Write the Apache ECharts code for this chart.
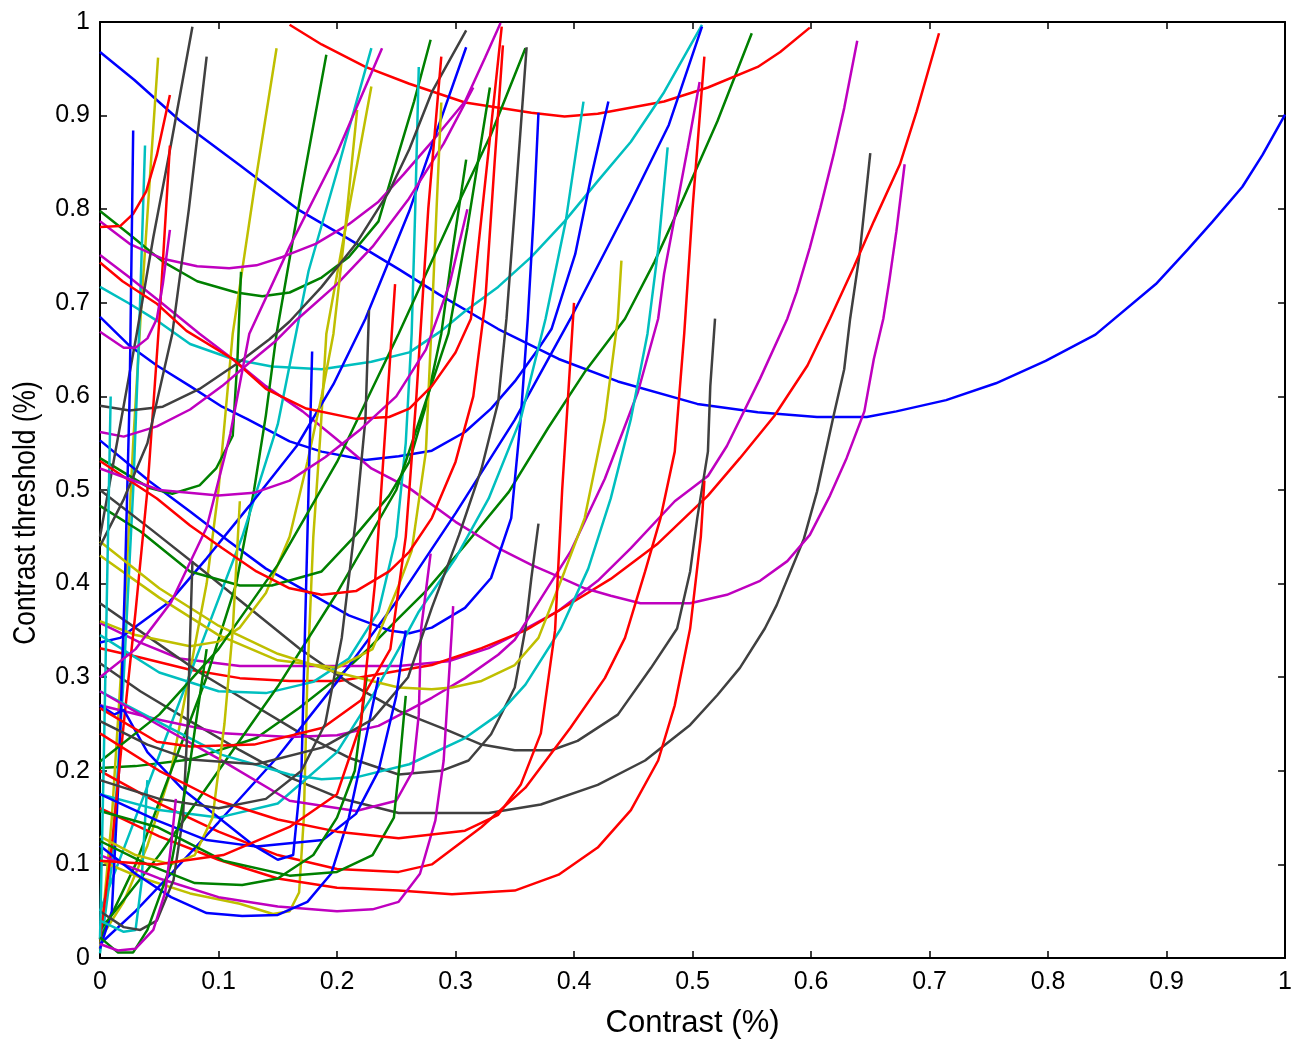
<!DOCTYPE html>
<html><head><meta charset="utf-8">
<script src="https://cdn.jsdelivr.net/npm/echarts@6/dist/echarts.min.js"></script>
<style>html,body{margin:0;padding:0;background:#fff}#chart{width:1295px;height:1044px}</style>
</head><body><div id="chart"></div>
<script>
const xTickValues = [0,0.1,0.2,0.3,0.4,0.5,0.6,0.7,0.8,0.9,1];
const yTickValues = [0,0.1,0.2,0.3,0.4,0.5,0.6,0.7,0.8,0.9,1];
const xTitle = 'Contrast (%)';
const yTitle = 'Contrast threshold (%)';

const blueCurves = [
 [[0,0.968],[0.029,0.938],[0.067,0.895],[0.118,0.847],[0.168,0.799],[0.210,0.768],[0.252,0.736],[0.286,0.709],[0.336,0.672],[0.387,0.640],[0.437,0.616],[0.504,0.592],[0.555,0.583],[0.605,0.578],[0.647,0.578],[0.672,0.584],[0.714,0.596],[0.756,0.614],[0.798,0.638],[0.840,0.666],[0.891,0.720],[0.918,0.757],[0.939,0.787],[0.964,0.824],[0.981,0.858],[1.0,0.901]],
 [[0,0.685],[0.025,0.654],[0.048,0.633],[0.076,0.611],[0.103,0.589],[0.124,0.576],[0.160,0.552],[0.187,0.541],[0.224,0.532],[0.252,0.536],[0.280,0.542],[0.308,0.562],[0.330,0.587],[0.350,0.616],[0.370,0.651],[0.381,0.672],[0.401,0.752],[0.414,0.832],[0.429,0.915]],
 [[0,0.553],[0.042,0.509],[0.076,0.477],[0.109,0.445],[0.140,0.416],[0.174,0.392],[0.210,0.366],[0.244,0.350],[0.261,0.347],[0.280,0.353],[0.308,0.374],[0.330,0.406],[0.347,0.470],[0.355,0.576],[0.361,0.683],[0.366,0.794],[0.370,0.903]],
 [[0,0.337],[0.017,0.342],[0.059,0.381],[0.090,0.427],[0.126,0.483],[0.166,0.547],[0.197,0.613],[0.224,0.683],[0.261,0.798],[0.286,0.890],[0.309,0.973]],
 [[0,0.015],[0.03,0.05],[0.06,0.09],[0.1,0.145],[0.15,0.215],[0.2,0.295],[0.252,0.384],[0.3,0.475],[0.35,0.575],[0.397,0.683],[0.448,0.808],[0.48,0.89],[0.508,0.995]],
 [[0,0.01],[0.01,0.05],[0.016,0.2],[0.021,0.4],[0.025,0.6],[0.028,0.884]],
 [[0,0.27],[0.012,0.26],[0.02,0.265],[0.04,0.22],[0.07,0.18],[0.1,0.15],[0.13,0.12],[0.15,0.105],[0.163,0.11],[0.17,0.2],[0.173,0.35],[0.176,0.5],[0.179,0.648]],
 [[0,0.12],[0.03,0.09],[0.06,0.065],[0.09,0.048],[0.12,0.045],[0.15,0.046],[0.175,0.06],[0.195,0.09],[0.21,0.15],[0.222,0.22],[0.235,0.3]],
 [[0,0.175],[0.048,0.147],[0.09,0.126],[0.132,0.119],[0.188,0.126],[0.216,0.154],[0.235,0.2],[0.25,0.28],[0.258,0.35]]
];

const greenCurves = [
 [[0,0.203],[0.03,0.205],[0.076,0.212],[0.132,0.235],[0.168,0.267],[0.200,0.299],[0.227,0.331],[0.252,0.363],[0.275,0.392],[0.308,0.441],[0.345,0.498],[0.378,0.566],[0.409,0.626],[0.443,0.683],[0.468,0.744],[0.490,0.805],[0.521,0.894],[0.550,0.988]],
 [[0,0.798],[0.025,0.773],[0.053,0.744],[0.082,0.723],[0.115,0.711],[0.137,0.707],[0.160,0.711],[0.187,0.727],[0.210,0.749],[0.235,0.787],[0.252,0.86],[0.265,0.915],[0.279,0.981]],
 [[0,0.02],[0.03,0.1],[0.06,0.2],[0.09,0.3],[0.115,0.4],[0.13,0.5],[0.14,0.58],[0.149,0.667],[0.17,0.82],[0.191,0.965]],
 [[0,0.534],[0.042,0.502],[0.061,0.496],[0.084,0.505],[0.098,0.523],[0.112,0.558],[0.116,0.64],[0.119,0.733]],
 [[0,0.483],[0.034,0.456],[0.076,0.413],[0.118,0.398],[0.145,0.398],[0.187,0.413],[0.216,0.452],[0.244,0.494],[0.261,0.530],[0.275,0.59],[0.288,0.667],[0.298,0.76],[0.309,0.853]],
 [[0,0.03],[0.05,0.11],[0.1,0.2],[0.15,0.29],[0.2,0.39],[0.25,0.5],[0.294,0.667],[0.31,0.78],[0.329,0.93]],
 [[0,0.21],[0.05,0.26],[0.1,0.33],[0.15,0.42],[0.2,0.53],[0.252,0.667],[0.3,0.8],[0.33,0.88],[0.359,0.972]],
 [[0,0.157],[0.048,0.14],[0.104,0.104],[0.16,0.088],[0.2,0.092],[0.23,0.11],[0.248,0.15],[0.253,0.21],[0.258,0.28]],
 [[0,0.022],[0.015,0.006],[0.028,0.006],[0.04,0.03],[0.06,0.1],[0.075,0.2],[0.09,0.33]],
 [[0,0.125],[0.04,0.1],[0.08,0.08],[0.12,0.078],[0.15,0.085],[0.18,0.11],[0.2,0.15],[0.215,0.2],[0.225,0.3]]
];

const redCurves = [
 [[0.160,0.997],[0.187,0.976],[0.224,0.952],[0.261,0.934],[0.308,0.914],[0.364,0.903],[0.392,0.899],[0.420,0.902],[0.476,0.915],[0.513,0.930],[0.555,0.952],[0.574,0.968],[0.599,0.994]],
 [[0,0.331],[0.034,0.321],[0.076,0.308],[0.118,0.299],[0.160,0.296],[0.202,0.296],[0.252,0.307],[0.280,0.313],[0.322,0.331],[0.359,0.350],[0.387,0.371],[0.431,0.405],[0.470,0.442],[0.513,0.494],[0.540,0.534],[0.569,0.579],[0.597,0.633],[0.616,0.683],[0.636,0.738],[0.653,0.787],[0.675,0.848],[0.689,0.904],[0.708,0.988]],
 [[0,0.2],[0.05,0.165],[0.1,0.135],[0.15,0.11],[0.2,0.095],[0.252,0.092],[0.28,0.1],[0.322,0.14],[0.359,0.182],[0.397,0.246],[0.426,0.299],[0.443,0.342],[0.460,0.413],[0.473,0.470],[0.485,0.541],[0.493,0.667],[0.500,0.8],[0.510,0.963]],
 [[0,0.16],[0.05,0.13],[0.1,0.105],[0.15,0.085],[0.2,0.075],[0.252,0.072],[0.297,0.068],[0.35,0.072],[0.387,0.089],[0.42,0.118],[0.448,0.158],[0.471,0.211],[0.485,0.27],[0.498,0.352],[0.507,0.45],[0.51,0.51]],
 [[0,0.781],[0.017,0.782],[0.028,0.795],[0.039,0.819],[0.048,0.858],[0.059,0.922]],
 [[0,0.02],[0.01,0.12],[0.02,0.25],[0.03,0.37],[0.04,0.5],[0.05,0.68],[0.059,0.868]],
 [[0,0.267],[0.048,0.231],[0.076,0.226],[0.13,0.228],[0.188,0.246],[0.22,0.275],[0.245,0.33],[0.258,0.45],[0.267,0.6],[0.277,0.8],[0.288,0.963]],
 [[0,0.743],[0.019,0.723],[0.048,0.699],[0.073,0.670],[0.112,0.640],[0.140,0.608],[0.174,0.587],[0.216,0.576],[0.244,0.578],[0.261,0.587],[0.280,0.611],[0.300,0.647],[0.313,0.683],[0.319,0.757],[0.328,0.864],[0.339,0.995]],
 [[0,0.24],[0.05,0.2],[0.1,0.168],[0.15,0.148],[0.2,0.135],[0.252,0.128],[0.308,0.136],[0.336,0.153],[0.355,0.185],[0.372,0.24],[0.384,0.35],[0.39,0.5],[0.395,0.6],[0.40,0.70]],
 [[0,0.531],[0.048,0.491],[0.076,0.462],[0.103,0.438],[0.132,0.413],[0.16,0.395],[0.187,0.388],[0.216,0.392],[0.244,0.413],[0.261,0.434],[0.28,0.47],[0.3,0.53],[0.315,0.6],[0.325,0.7],[0.333,0.85],[0.34,0.975]],
 [[0,0.104],[0.048,0.1],[0.104,0.11],[0.16,0.14],[0.2,0.175],[0.22,0.25],[0.232,0.4],[0.24,0.55],[0.249,0.72]]
];

const cyanCurves = [
 [[0,0.717],[0.025,0.699],[0.048,0.681],[0.076,0.656],[0.112,0.640],[0.145,0.632],[0.187,0.629],[0.229,0.637],[0.261,0.647],[0.288,0.670],[0.308,0.691],[0.336,0.717],[0.364,0.749],[0.392,0.787],[0.420,0.830],[0.448,0.872],[0.476,0.925],[0.508,0.997]],
 [[0,0.005],[0.01,0.1],[0.02,0.3],[0.028,0.5],[0.033,0.667],[0.038,0.868]],
 [[0,0.05],[0.03,0.15],[0.06,0.25],[0.09,0.35],[0.12,0.45],[0.15,0.57],[0.176,0.734],[0.2,0.84],[0.229,0.972]],
 [[0,0.345],[0.05,0.305],[0.1,0.285],[0.14,0.283],[0.18,0.295],[0.21,0.32],[0.235,0.37],[0.25,0.45],[0.258,0.55],[0.263,0.667],[0.266,0.8],[0.269,0.952]],
 [[0,0.175],[0.05,0.158],[0.1,0.15],[0.15,0.165],[0.2,0.22],[0.23,0.28],[0.252,0.33],[0.269,0.37],[0.3,0.427],[0.328,0.491],[0.355,0.576],[0.376,0.683],[0.393,0.787],[0.408,0.915]],
 [[0,0.285],[0.048,0.253],[0.103,0.217],[0.160,0.196],[0.187,0.191],[0.216,0.193],[0.261,0.207],[0.308,0.235],[0.336,0.260],[0.359,0.292],[0.389,0.352],[0.412,0.416],[0.431,0.491],[0.448,0.576],[0.462,0.667],[0.471,0.757],[0.479,0.866]],
 [[0,0.04],[0.02,0.028],[0.03,0.03],[0.035,0.08],[0.04,0.19]],
 [[0,0.02],[0.003,0.2],[0.006,0.4],[0.009,0.6]]
];

const magentaCurves = [
 [[0,0.358],[0.034,0.337],[0.067,0.32],[0.118,0.312],[0.185,0.312],[0.252,0.312],[0.294,0.317],[0.328,0.331],[0.345,0.342],[0.387,0.371],[0.420,0.403],[0.448,0.438],[0.485,0.488],[0.513,0.515],[0.529,0.547],[0.557,0.619],[0.580,0.683],[0.588,0.712],[0.599,0.759],[0.608,0.802],[0.619,0.858],[0.628,0.908],[0.639,0.980]],
 [[0,0.751],[0.025,0.727],[0.050,0.702],[0.084,0.667],[0.112,0.640],[0.140,0.611],[0.171,0.584],[0.199,0.555],[0.229,0.523],[0.261,0.502],[0.300,0.466],[0.336,0.438],[0.364,0.420],[0.384,0.409],[0.409,0.395],[0.431,0.387],[0.456,0.379],[0.498,0.379],[0.529,0.388],[0.557,0.403],[0.580,0.424],[0.599,0.452],[0.616,0.494],[0.630,0.534],[0.645,0.584],[0.653,0.640],[0.661,0.683],[0.666,0.723],[0.672,0.776],[0.679,0.848]],
 [[0,0.787],[0.025,0.763],[0.053,0.747],[0.082,0.739],[0.109,0.737],[0.132,0.740],[0.154,0.749],[0.182,0.763],[0.210,0.784],[0.235,0.808],[0.256,0.837],[0.280,0.872],[0.308,0.915],[0.325,0.962],[0.338,0.999]],
 [[0,0.562],[0.02,0.557],[0.048,0.568],[0.076,0.586],[0.103,0.611],[0.126,0.636],[0.149,0.66],[0.167,0.683],[0.2,0.72],[0.23,0.76],[0.26,0.81],[0.29,0.87],[0.315,0.93]],
 [[0,0.27],[0.048,0.255],[0.104,0.24],[0.16,0.236],[0.2,0.238],[0.235,0.248],[0.261,0.265],[0.28,0.278],[0.308,0.299],[0.336,0.324],[0.35,0.34],[0.376,0.392],[0.397,0.434],[0.426,0.512],[0.454,0.605],[0.471,0.683],[0.476,0.731],[0.496,0.866],[0.506,0.936]],
 [[0,0.285],[0.048,0.25],[0.104,0.21],[0.16,0.168],[0.216,0.157],[0.25,0.168],[0.264,0.2],[0.269,0.26],[0.271,0.352],[0.279,0.432]],
 [[0,0.11],[0.05,0.085],[0.1,0.065],[0.15,0.055],[0.2,0.05],[0.23,0.052],[0.252,0.06],[0.27,0.09],[0.283,0.147],[0.29,0.211],[0.297,0.352],[0.298,0.376]],
 [[0,0.669],[0.02,0.652],[0.03,0.652],[0.04,0.662],[0.048,0.683],[0.053,0.72],[0.059,0.778]],
 [[0,0.3],[0.03,0.33],[0.06,0.38],[0.09,0.46],[0.11,0.56],[0.126,0.667],[0.16,0.76],[0.2,0.86],[0.238,0.972]],
 [[0,0.523],[0.05,0.5],[0.1,0.494],[0.13,0.497],[0.16,0.51],[0.19,0.535],[0.22,0.565],[0.25,0.6],[0.275,0.65],[0.295,0.72],[0.31,0.8]],
 [[0,0.015],[0.015,0.008],[0.03,0.01],[0.045,0.03],[0.055,0.07],[0.06,0.12],[0.064,0.17]]
];

const yellowCurves = [
 [[0,0.01],[0.01,0.15],[0.02,0.35],[0.028,0.55],[0.035,0.7],[0.043,0.85],[0.049,0.962]],
 [[0,0.02],[0.02,0.06],[0.04,0.12],[0.06,0.2],[0.075,0.3],[0.09,0.4],[0.1,0.5],[0.112,0.667],[0.13,0.82],[0.149,0.972]],
 [[0,0.104],[0.034,0.086],[0.076,0.069],[0.118,0.058],[0.146,0.047],[0.16,0.05],[0.168,0.07],[0.172,0.15],[0.175,0.3],[0.18,0.45],[0.186,0.56],[0.191,0.667],[0.21,0.8],[0.229,0.931]],
 [[0,0.36],[0.03,0.345],[0.076,0.333],[0.1,0.338],[0.118,0.353],[0.14,0.39],[0.16,0.45],[0.175,0.53],[0.187,0.6],[0.197,0.667],[0.207,0.78],[0.217,0.906]],
 [[0,0.43],[0.05,0.385],[0.1,0.345],[0.15,0.318],[0.2,0.31],[0.23,0.33],[0.252,0.398],[0.263,0.435],[0.275,0.541],[0.28,0.683],[0.284,0.8],[0.288,0.914]],
 [[0,0.445],[0.05,0.395],[0.1,0.355],[0.15,0.325],[0.2,0.305],[0.252,0.289],[0.28,0.287],[0.297,0.289],[0.322,0.296],[0.35,0.313],[0.370,0.342],[0.392,0.413],[0.409,0.47],[0.426,0.575],[0.437,0.683],[0.44,0.745]],
 [[0,0.13],[0.03,0.11],[0.06,0.1],[0.08,0.11],[0.095,0.15],[0.105,0.25],[0.112,0.35],[0.118,0.488]]
];

const grayCurves = [
 [[0,0.315],[0.034,0.285],[0.076,0.253],[0.118,0.222],[0.160,0.193],[0.202,0.171],[0.252,0.155],[0.328,0.155],[0.372,0.164],[0.420,0.185],[0.460,0.211],[0.498,0.249],[0.521,0.281],[0.540,0.310],[0.561,0.352],[0.571,0.377],[0.594,0.448],[0.605,0.498],[0.619,0.579],[0.628,0.629],[0.633,0.683],[0.641,0.752],[0.650,0.860]],
 [[0,0.50],[0.042,0.459],[0.084,0.417],[0.126,0.374],[0.168,0.331],[0.21,0.294],[0.252,0.264],[0.294,0.243],[0.322,0.228],[0.350,0.222],[0.381,0.222],[0.403,0.232],[0.437,0.260],[0.465,0.310],[0.487,0.352],[0.498,0.413],[0.504,0.470],[0.513,0.541],[0.515,0.611],[0.519,0.683]],
 [[0,0.379],[0.042,0.342],[0.084,0.305],[0.126,0.273],[0.168,0.241],[0.210,0.214],[0.252,0.196],[0.288,0.200],[0.311,0.211],[0.330,0.239],[0.350,0.289],[0.359,0.352],[0.364,0.406],[0.370,0.464]],
 [[0,0.590],[0.025,0.585],[0.053,0.589],[0.084,0.608],[0.118,0.637],[0.143,0.661],[0.160,0.680],[0.187,0.717],[0.216,0.763],[0.244,0.819],[0.261,0.864],[0.280,0.925],[0.309,0.991]],
 [[0,0.45],[0.01,0.52],[0.02,0.59],[0.031,0.667],[0.045,0.77],[0.06,0.87],[0.078,0.995]],
 [[0,0.44],[0.02,0.49],[0.04,0.55],[0.061,0.667],[0.075,0.8],[0.09,0.963]],
 [[0,0.05],[0.02,0.033],[0.034,0.03],[0.048,0.04],[0.062,0.083],[0.07,0.15],[0.074,0.25],[0.076,0.342],[0.078,0.424]],
 [[0,0.253],[0.04,0.228],[0.076,0.212],[0.132,0.207],[0.188,0.225],[0.23,0.255],[0.26,0.3],[0.28,0.374],[0.303,0.452],[0.322,0.523],[0.336,0.594],[0.343,0.683],[0.35,0.8],[0.36,0.973]],
 [[0,0.19],[0.05,0.17],[0.1,0.16],[0.14,0.17],[0.17,0.2],[0.19,0.25],[0.204,0.342],[0.216,0.47],[0.224,0.576],[0.227,0.692]]
];

const colorGroups = [
  {color:'#0000ff', curves: blueCurves},
  {color:'#008000', curves: greenCurves},
  {color:'#ff0000', curves: redCurves},
  {color:'#00bfbf', curves: cyanCurves},
  {color:'#bf00bf', curves: magentaCurves},
  {color:'#bfbf00', curves: yellowCurves},
  {color:'#404040', curves: grayCurves}
];

const series = [];
const maxLen = Math.max(...colorGroups.map(g => g.curves.length));
for (let i = 0; i < maxLen; i++) {
  for (const g of colorGroups) {
    if (i < g.curves.length) {
      series.push({
        type:'line', data:g.curves[i], xAxisIndex:0, yAxisIndex:0,
        showSymbol:false, symbol:'none', smooth:false, silent:true,
        lineStyle:{color:g.color, width:2.5}, itemStyle:{color:g.color},
        animation:false
      });
    }
  }
}

const FONT = '"Liberation Sans", Arial, sans-serif';
const tickStyle = {color:'#000', width:1.5};
function mkAxis(pos, showLabels, margin) {
  return {
    type:'value', min:0, max:1, interval:0.1, position:pos,
    axisLine:{show:true, onZero:false, lineStyle:{color:'#000', width:2}},
    axisTick:{show:true, inside:true, length:7, lineStyle:tickStyle},
    axisLabel:{show:showLabels, color:'#000', fontSize:25, fontFamily:FONT, margin:margin},
    splitLine:{show:false}
  };
}
const xA0 = mkAxis('bottom', true, 12);
xA0.name = xTitle; xA0.nameLocation = 'middle'; xA0.nameGap = 50;
xA0.nameTextStyle = {color:'#000', fontSize:31, fontFamily:FONT};
const xA1 = mkAxis('top', false, 8);
const yA0 = mkAxis('left', true, 10);
const yA1 = mkAxis('right', false, 8);

const chart = echarts.init(document.getElementById('chart'), null, {renderer:'canvas', width:1295, height:1044});
chart.setOption({
  animation:false,
  backgroundColor:'#ffffff',
  grid:{left:100, right:5, top:22, bottom:83, containLabel:false},
  xAxis:[xA0, xA1],
  yAxis:[yA0, yA1],
  graphic:[{
    type:'text', x:26, y:513, rotation:Math.PI/2, scaleX:0.85, scaleY:1,
    silent:true,
    style:{text:yTitle, fill:'#000', font:'31px "Liberation Sans", Arial, sans-serif',
           textAlign:'center', textVerticalAlign:'middle'}
  }],
  series: series
});
</script>
</body></html>
